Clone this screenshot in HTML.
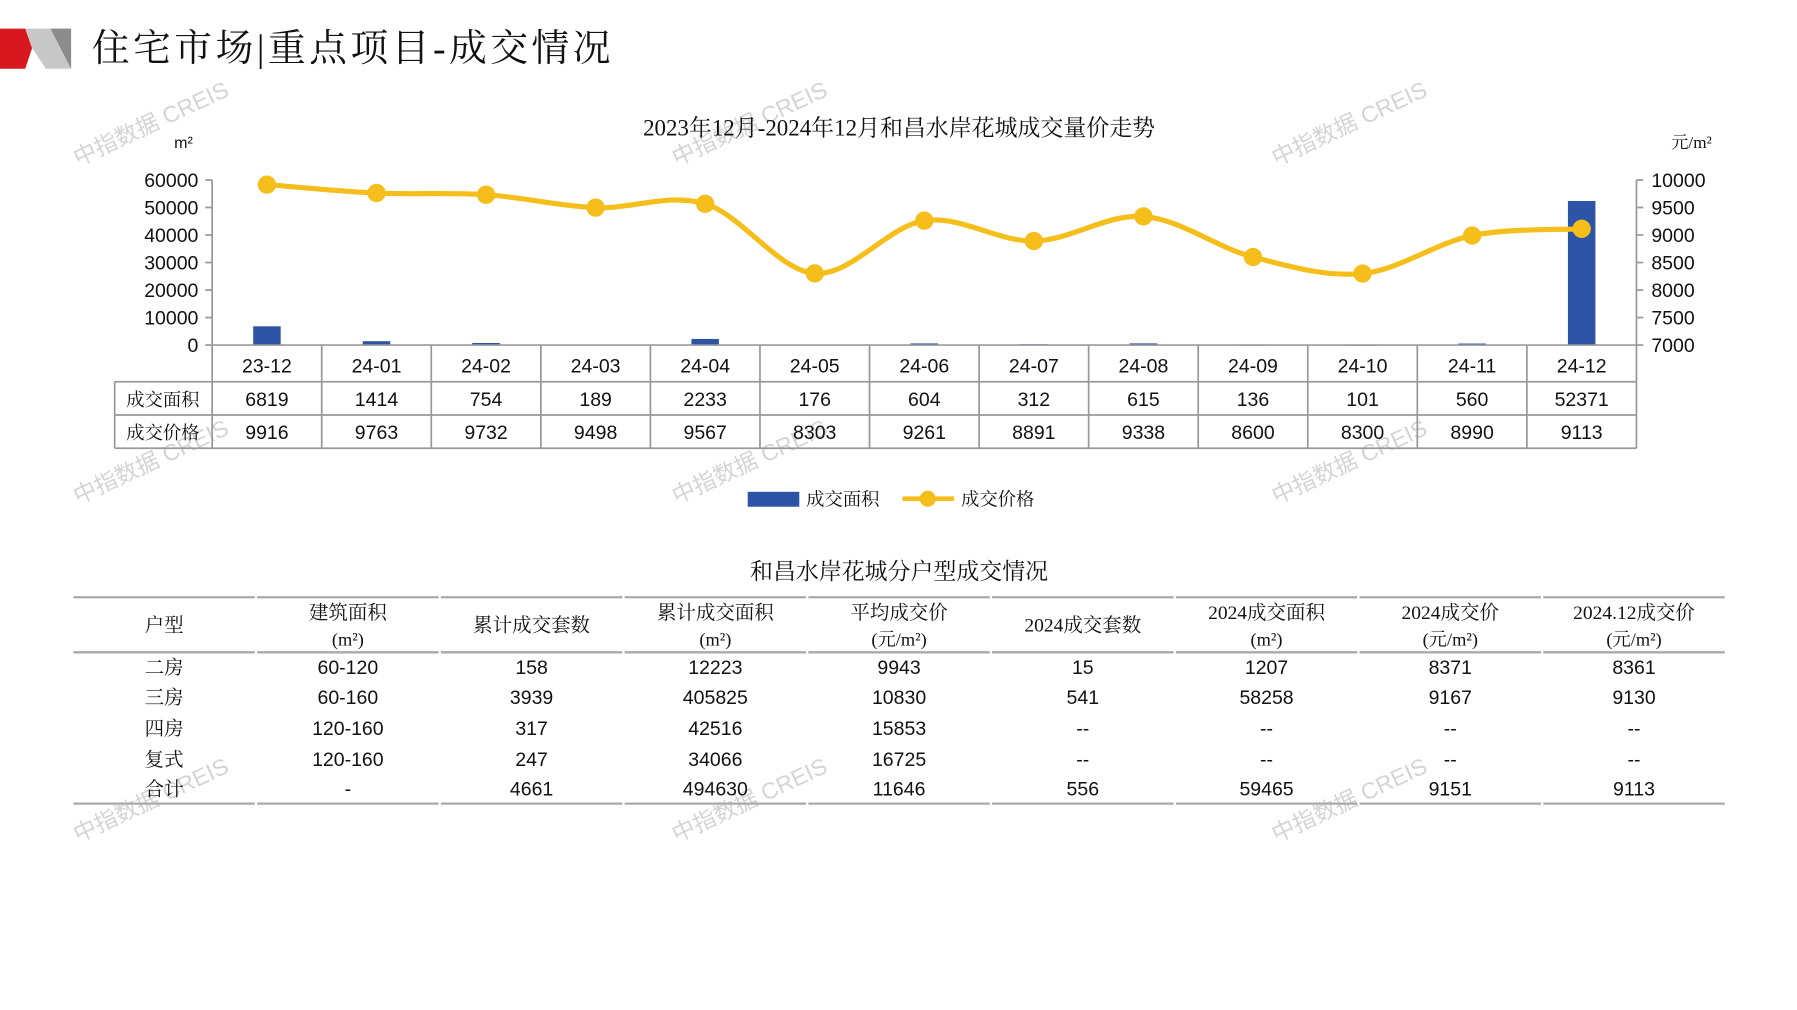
<!DOCTYPE html>
<html><head><meta charset="utf-8"><style>
html,body{margin:0;padding:0;background:#fff;width:1797px;height:1010px;overflow:hidden}
svg{display:block}
text{font-family:"Liberation Sans","Noto Sans CJK SC",sans-serif;fill:#111}
.cn{font-family:"Liberation Serif","Noto Serif CJK SC",serif}
.wm{font-family:"Liberation Sans","Noto Sans CJK SC",sans-serif;fill:#d4d4d4;font-size:20px}
</style></head><body>
<svg id="s" width="1797" height="1010" viewBox="0 0 1567 881" preserveAspectRatio="none">
<g>
<polygon points="0,25 22,25 28,42 22,60 0,60" fill="#d7191f"/>
<polygon points="22,25 62,25 62,60 40,60 28,42" fill="#c8c8c8"/>
<polygon points="44,25 62,25 62,60" fill="#8c8c8c"/>
<text x="80" y="53" class="cn" font-size="33" letter-spacing="3">住宅市场|重点项目-成交情况</text>
</g>
<g id="wm"></g>
<text x="784" y="118" text-anchor="middle" class="cn" font-size="20">2023年12月-2024年12月和昌水岸花城成交量价走势</text>
<text x="160" y="129" text-anchor="middle" font-size="14">m²</text>
<text x="1475" y="129" text-anchor="middle" class="cn" font-size="15">元/m²</text>
<g id="chart"></g>
<g>
<rect x="652" y="429" width="45" height="13" fill="#2e55a5"/>
<text x="703" y="441" class="cn" font-size="16">成交面积</text>
<line x1="787" y1="435" x2="832" y2="435" stroke="#f5be1a" stroke-width="4"/>
<circle cx="809" cy="435" r="7" fill="#f5be1a"/>
<text x="838" y="441" class="cn" font-size="16">成交价格</text>
</g>
<text x="784" y="505" text-anchor="middle" class="cn" font-size="20">和昌水岸花城分户型成交情况</text>
<g id="tbl"></g>
</svg>
<script>
const categories=["23-12","24-01","24-02","24-03","24-04","24-05","24-06","24-07","24-08","24-09","24-10","24-11","24-12"];
const areaValues=[6819,1414,754,189,2233,176,604,312,615,136,101,560,52371];
const priceValues=[9916,9763,9732,9498,9567,8303,9261,8891,9338,8600,8300,8990,9113];
const leftTicks=[0,10000,20000,30000,40000,50000,60000];
const rightTicks=[7000,7500,8000,8500,9000,9500,10000];
const tableHeaders=[["户型"],["建筑面积","(m²)"],["累计成交套数"],["累计成交面积","(m²)"],["平均成交价","(元/m²)"],["2024成交套数"],["2024成交面积","(m²)"],["2024成交价","(元/m²)"],["2024.12成交价","(元/m²)"]];
const tableRows=[["二房","60-120","158","12223","9943","15","1207","8371","8361"],["三房","60-160","3939","405825","10830","541","58258","9167","9130"],["四房","120-160","317","42516","15853","--","--","--","--"],["复式","120-160","247","34066","16725","--","--","--","--"],["合计","-","4661","494630","11646","556","59465","9151","9113"]];
const NS="http://www.w3.org/2000/svg";
function mk(p,tag,a,txt){const e=document.createElementNS(NS,tag);for(const k in a)e.setAttribute(k,a[k]);if(txt!==undefined)e.textContent=txt;p.appendChild(e);return e;}
const X0=185,X1=1427,Y0=301,Y1=157;
const colW=(X1-X0)/categories.length;
const xC=i=>X0+colW*(i+0.5);
const yL=v=>Y0-(v-0)/(60000)*(Y0-Y1);
const yR=v=>Y0-(v-7000)/(3000)*(Y0-Y1);
const ch=document.getElementById('chart');
let ax=mk(ch,'line',{x1:X0,y1:Y1,x2:X0,y2:Y0,stroke:'#999','stroke-width':1.5});


ax=mk(ch,'line',{x1:X1,y1:Y1,x2:X1,y2:Y0,stroke:'#999','stroke-width':1.5});


leftTicks.forEach(v=>{const y=yL(v);
 mk(ch,'line',{x1:X0-6,y1:y,x2:X0,y2:y,stroke:'#999','stroke-width':1.5});
 const t=mk(ch,'text',{x:173,y:y+6,'text-anchor':'end','font-size':17},String(v));
 
 });
rightTicks.forEach(v=>{const y=yR(v);
 mk(ch,'line',{x1:X1,y1:y,x2:X1+6,y2:y,stroke:'#999','stroke-width':1.5});
 const t=mk(ch,'text',{x:1440,y:y+6,'font-size':17},String(v));
 
 });
areaValues.forEach((v,i)=>{const y=yL(v);
 const b=mk(ch,'rect',{x:xC(i)-12,y:y,width:24,height:Math.max(Y0-y,0.8),fill:'#2e55a5'});
 
 });
const pts=priceValues.map((v,i)=>[xC(i),yR(v)]);
let d='M'+pts[0][0]+','+pts[0][1];
for(let i=0;i<pts.length-1;i++){const p0=pts[i-1]||pts[i],p1=pts[i],p2=pts[i+1],p3=pts[i+2]||p2;
 const c1=[p1[0]+(p2[0]-p0[0])/6,p1[1]+(p2[1]-p0[1])/6],c2=[p2[0]-(p3[0]-p1[0])/6,p2[1]-(p3[1]-p1[1])/6];
 d+=' C'+c1+' '+c2+' '+p2;}
const ln=mk(ch,'path',{d:d,fill:'none',stroke:'#f5be1a','stroke-width':4.5});


pts.forEach((p,i)=>{const c=mk(ch,'circle',{cx:p[0],cy:p[1],r:8,fill:'#f5be1a'});
 
 });
const TL=100;
mk(ch,'line',{x1:X0,y1:Y0,x2:X1,y2:Y0,stroke:'#999','stroke-width':1.5});
[333,362,391].forEach(y=>mk(ch,'line',{x1:TL,y1:y,x2:X1,y2:y,stroke:'#999','stroke-width':1.5}));
mk(ch,'line',{x1:TL,y1:333,x2:TL,y2:391,stroke:'#999','stroke-width':1.5});
for(let i=0;i<=categories.length;i++){const x=X0+colW*i;mk(ch,'line',{x1:x,y1:Y0,x2:x,y2:391,stroke:'#999','stroke-width':1.5});}
let t=mk(ch,'text',{x:142,y:354,'text-anchor':'middle','font-size':16,class:'cn'},'成交面积');


t=mk(ch,'text',{x:142,y:383,'text-anchor':'middle','font-size':16,class:'cn'},'成交价格');


categories.forEach((c,i)=>{
 let e=mk(ch,'text',{x:xC(i),y:325,'text-anchor':'middle','font-size':17},c);
 
 
 e=mk(ch,'text',{x:xC(i),y:354,'text-anchor':'middle','font-size':17},String(areaValues[i]));
 
 
 e=mk(ch,'text',{x:xC(i),y:383,'text-anchor':'middle','font-size':17},String(priceValues[i]));
 
 });
const tb=document.getElementById('tbl');
const TX0=63,TX1=1505,cw=(TX1-TX0)/9;
[521,569,701].forEach(y=>{for(let i=0;i<9;i++)mk(tb,'line',{x1:TX0+cw*i+1,y1:y,x2:TX0+cw*(i+1)-1,y2:y,stroke:'#aaa','stroke-width':2});});
tableHeaders.forEach((h,i)=>{const cx=TX0+cw*(i+0.5);
 if(h.length===1){const e=mk(tb,'text',{x:cx,y:551,'text-anchor':'middle','font-size':17,class:'cn'},h[0]);}
 else{let e=mk(tb,'text',{x:cx,y:540,'text-anchor':'middle','font-size':17,class:'cn'},h[0]);
 e=mk(tb,'text',{x:cx,y:563,'text-anchor':'middle','font-size':16,class:'cn'},h[1]);}});
const rowY=[588,614,641,668,694];
tableRows.forEach((r,ri)=>r.forEach((v,ci)=>{
 const e=mk(tb,'text',{x:TX0+cw*(ci+0.5),y:rowY[ri],'text-anchor':'middle','font-size':17,class:ci===0?'cn':''},v);
 
 }));
const wm=document.getElementById('wm');
[68,590,1113].forEach(x=>[145,440,735].forEach(y=>{
 const e=mk(wm,'text',{x:x,y:y,class:'wm',transform:'rotate(-25 '+x+' '+y+')'},'中指数据 CREIS');
 
 }));
</script>
</body></html>
